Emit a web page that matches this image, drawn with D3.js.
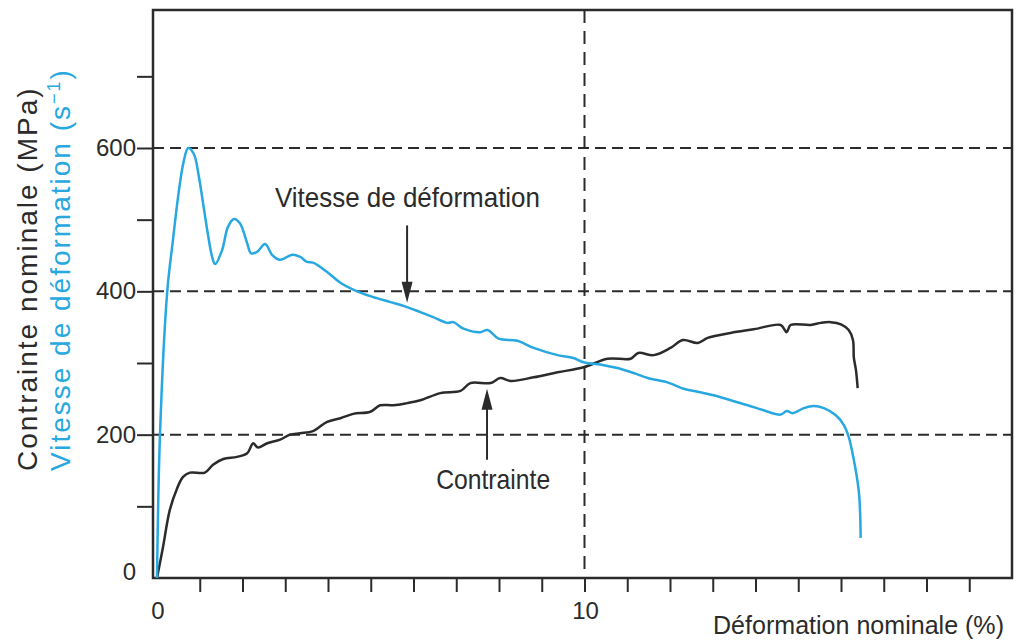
<!DOCTYPE html>
<html><head><meta charset="utf-8">
<script src="https://cdn.jsdelivr.net/npm/d3@7/dist/d3.min.js"></script>
<style>
html,body{margin:0;padding:0;background:#fff;}
svg{display:block;font-family:"Liberation Sans",Arial,Helvetica,sans-serif;}
</style></head><body>
<svg id="chart" width="1019" height="643"></svg>
<script>
// ---- data ----
const strainRateX = [0,0.07,0.24,0.37,0.50,0.62,0.73,0.86,0.98,1.08,1.19,1.29,1.36,1.52,1.66,1.80,1.94,2.11,2.20,2.34,2.53,2.69,2.88,3.16,3.35,3.51,3.65,3.98,4.29,4.68,5.06,5.46,5.85,6.16,6.46,6.79,6.93,7.17,7.56,7.73,7.99,8.43,8.81,9.37,9.74,9.98,10.45,10.77,11.15,11.48,11.94,12.32,12.65,13.02,13.42,13.82,14.19,14.59,14.73,14.87,15.13,15.36,15.60,15.88,16.07,16.18,16.30,16.42,16.46];
const strainRateY = [0,200,400,470,535,580,600,592,560,522,480,448,438,457,490,501,495,467,453,455,466,451,444,451,448,441,440,427,412,400,392,385,378,371,364,356,357,348,343,346,334,331,321,311,307,301,297,293,286,279,273,264,260,255,248,241,234,228,233,230,237,240,237,227,213,197,165,119,56];
const stressX = [0,0.14,0.30,0.47,0.61,0.77,1.12,1.31,1.55,1.87,2.11,2.25,2.36,2.58,2.88,3.11,3.35,3.65,3.98,4.29,4.59,4.99,5.22,5.53,5.85,6.16,6.63,7.10,7.33,7.80,8.03,8.27,8.81,9.37,9.98,10.54,11.08,11.26,11.62,12.01,12.30,12.65,12.88,13.42,13.96,14.59,14.73,14.82,15.29,15.53,15.76,16.00,16.18,16.28,16.30,16.35,16.39];
const stressY = [0,43,95,125,141,147,147,158,166,169,174,188,182,188,193,200,202,205,218,223,229,232,241,241,244,248,258,261,272,272,279,275,280,287,294,306,306,314,311,321,332,328,335,342,347,353,343,353,353,356,357,354,346,332,308,290,265];
const xMinorTicks = [1,2,3,4,5,6,7,8,9,10,11,12,13,14,15,16,17,18,19];
const xTickLabels = [0,10];
const yMinorTicks = [100,300,500,700];
const yGridValues = [200,400,600];
const yTickLabels = [0,200,400,600];
const xGridValues = [10];
const xTitle = "Déformation nominale (%)";
const yTitle1 = "Contrainte nominale (MPa)";
const yTitle2 = "Vitesse de déformation (s";
const annotRate = {label:"Vitesse de déformation", tx:2.76, ty:517, ax:5.85, ay0:492, ay1:384, w:265};
const annotStress = {label:"Contrainte", tx:6.53, ty:124, ax:7.72, ay0:165, ay1:264, w:114};

// ---- layout ----
const BLUE = "#27a8e0", INK = "#2b2b2b";
const svg = d3.select("#chart");
const x = d3.scaleLinear().domain([0,20]).range([157,1012]);
const y = d3.scaleLinear().domain([0,600]).range([578,148]);
const fLeft = 153, fRight = 1012, fTop = 10, fBottom = 578;

// dashed grid
const g = svg.append("g");
g.selectAll("line.hg").data(yGridValues).join("line")
  .attr("x1",fLeft).attr("x2",fRight).attr("y1",d=>y(d)).attr("y2",d=>y(d))
  .attr("stroke",INK).attr("stroke-width",2).attr("stroke-dasharray","11,6");
g.selectAll("line.vg").data(xGridValues).join("line")
  .attr("x1",d=>x(d)).attr("x2",d=>x(d)).attr("y1",fTop).attr("y2",fBottom)
  .attr("stroke",INK).attr("stroke-width",2).attr("stroke-dasharray","13,8");

// frame
svg.append("rect").attr("x",fLeft).attr("y",fTop).attr("width",fRight-fLeft).attr("height",fBottom-fTop)
  .attr("fill","none").attr("stroke",INK).attr("stroke-width",2.5);

// x axis ticks
const xAxis = d3.axisBottom(x).tickValues(xMinorTicks).tickSize(14).tickFormat("");
const xa = svg.append("g").attr("transform",`translate(0,${fBottom})`).call(xAxis);
xa.select(".domain").remove();
xa.selectAll(".tick line").attr("stroke",INK).attr("stroke-width",2);
svg.selectAll("text.xl").data(xTickLabels).join("text")
  .attr("x",d=>x(d)+1).attr("y",619).attr("text-anchor","middle")
  .attr("font-size",24).attr("fill",INK).text(d=>d);

// y axis ticks
const yAxis = d3.axisLeft(y).tickValues(yMinorTicks.concat(yGridValues)).tickSize(16).tickFormat("");
const ya = svg.append("g").attr("transform",`translate(${fLeft},0)`).call(yAxis);
ya.select(".domain").remove();
ya.selectAll(".tick line").attr("stroke",INK).attr("stroke-width",2);
svg.selectAll("text.yl").data(yTickLabels).join("text")
  .attr("x",136).attr("y",d=>y(d)+(d===0?2:8)).attr("text-anchor","end")
  .attr("font-size",24).attr("fill",INK).text(d=>d);

// curves
const line = d3.line().x(d=>x(d[0])).y(d=>y(d[1])).curve(d3.curveCatmullRom.alpha(0.5));
svg.append("path").datum(stressX.map((v,i)=>[v,stressY[i]]))
  .attr("d",line).attr("fill","none").attr("stroke",INK).attr("stroke-width",2.5).attr("stroke-linejoin","round");
svg.append("path").datum(strainRateX.map((v,i)=>[v,strainRateY[i]]))
  .attr("d",line).attr("fill","none").attr("stroke",BLUE).attr("stroke-width",2.5).attr("stroke-linejoin","round");

// annotations
function arrow(a){
  const px = x(a.ax), p0 = y(a.ay0), p1 = y(a.ay1);
  const dir = p1 > p0 ? 1 : -1;
  svg.append("line").attr("x1",px).attr("x2",px).attr("y1",p0).attr("y2",p1 - dir*10)
    .attr("stroke",INK).attr("stroke-width",2);
  svg.append("path").attr("d",`M${px},${p1} L${px-5.5},${p1-dir*21} L${px+5.5},${p1-dir*21} Z`).attr("fill",INK);
  svg.append("text").attr("x",x(a.tx)).attr("y",y(a.ty)).attr("font-size",28)
    .attr("textLength",a.w).attr("lengthAdjust","spacingAndGlyphs").attr("fill",INK).text(a.label);
}
arrow(annotRate); arrow(annotStress);

svg.append("text").attr("x",713).attr("y",634)
  .attr("font-size",25).attr("textLength",291).attr("lengthAdjust","spacingAndGlyphs")
  .attr("fill",INK).text(xTitle);

svg.append("text").attr("transform","translate(37,471) rotate(-90)")
  .attr("font-size",28).attr("letter-spacing",2).attr("fill",INK).text(yTitle1);
const t2 = svg.append("text").attr("transform","translate(70,471) rotate(-90)")
  .attr("font-size",28).attr("letter-spacing",2).attr("fill",BLUE);
t2.append("tspan").text(yTitle2);
t2.append("tspan").attr("dy",-10).attr("font-size",18).text("−1");
t2.append("tspan").attr("dy",10).text(")");
</script></body></html>
